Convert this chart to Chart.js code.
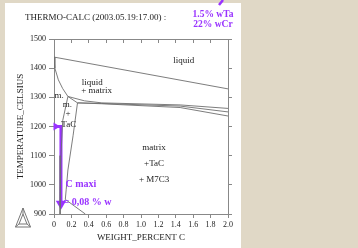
<!DOCTYPE html>
<html lang="en">
<head>
    <meta charset="UTF-8">
    <title>Thermo-Calc isopleth</title>
    <script src="https://cdn.jsdelivr.net/npm/chart.js"></script>
    <style>
        html, body { margin: 0; padding: 0; }
        body {
            width: 358px; height: 248px; overflow: hidden; position: relative;
            background: #e0d8c6;
            font-family: 'Liberation Serif', 'Times New Roman', serif;
        }
        #panel { position: absolute; left: 5px; top: 3px; width: 236px; height: 245px; background: #fff; }
        #header { position: absolute; left: 20px; top: 9px; font-size: 9px; line-height: 10px; color: #222; white-space: nowrap; }
        #alloy {
            position: absolute; left: 180px; top: 6px; width: 56px; text-align: center;
            font-size: 9.5px; line-height: 10px; font-weight: bold; color: #9933ff; white-space: nowrap;
        }
        #deco { position: absolute; left: 0; top: 0; }
        canvas { position: absolute; left: 0; top: 0; }
    </style>
</head>
<body>
    <div id="panel">
        <canvas id="phaseChart" width="236" height="245"></canvas>
        <div id="header">THERMO-CALC (2003.05.19:17.00) :</div>
        <div id="alloy">1.5% wTa<br>22% wCr</div>
    </div>
    <!-- logo and the end of the pointer coming from outside -->
    <svg id="deco" width="358" height="248">
        <line x1="223" y1="0" x2="219" y2="5" stroke="#9933ff" stroke-width="2.5"/>
        <g fill="none" stroke="#777" stroke-width="1">
            <polygon points="23,208 15.5,227 30.5,227"/>
            <polygon points="23,214 19,224 27,224"/>
            <line x1="23" y1="208" x2="23" y2="214"/>
            <line x1="15.5" y1="227" x2="19" y2="224"/>
            <line x1="30.5" y1="227" x2="27" y2="224"/>
        </g>
    </svg>

    <script>
        // phase boundaries (weight % C, temperature in Celsius)
        const liquidusC = [0, 2.0];
        const liquidusT = [1438, 1329];
        const upperC = [0, 0.01, 0.05, 0.10, 0.16];
        const upperT = [1438, 1400, 1360, 1330, 1303];
        const tieC = [0.16, 0.27];
        const tieT = [1303, 1281];
        const eutAC = [0.16, 0.35, 0.55, 1.45, 2.0];
        const eutAT = [1303, 1288, 1281, 1274, 1262];
        const eutBC = [0.27, 0.55, 1.45, 2.0];
        const eutBT = [1281, 1279, 1270, 1250];
        const eutCC = [0.27, 0.55, 1.45, 2.0];
        const eutCT = [1281, 1278, 1265, 1236];
        const leftC = [0.16, 0.10, 0.08, 0.07, 0.07];
        const leftT = [1303, 1220, 1100, 1000, 900];
        const rightC = [0.27, 0.22, 0.16, 0.14, 0.13, 0.36];
        const rightT = [1281, 1170, 1051, 983, 950, 900];

        // the purple "C maxi" pointer
        const arrowC = [0.02, 0.08, 0.08];
        const arrowT = [1200, 1200, 935];

        // region labels
        const labelText = ['liquid', 'liquid', '+ matrix', 'm.', 'm.', '+', 'TaC', 'matrix', '+TaC', '+ M7C3'];
        const labelC = [1.49, 0.44, 0.49, 0.06, 0.155, 0.16, 0.17, 1.15, 1.15, 1.15];
        const labelT = [1425, 1349, 1322, 1305, 1274, 1243, 1205, 1127, 1072, 1017];
        const noteText = ['C maxi', '= 0,08 % w'];
        const noteC = [0.31, 0.385];
        const noteT = [1000, 938];

        const purple = '#9933ff';
        const lineGrey = '#6e6e6e';
        const serif = "'Liberation Serif', 'Times New Roman', serif";

        const pts = (cs, ts) => cs.map((c, i) => ({ x: c, y: ts[i] }));
        const boundary = (cs, ts) => ({
            data: pts(cs, ts),
            borderColor: lineGrey,
            borderWidth: 0.9,
            pointRadius: 0,
            tension: 0
        });

        const phaseLabels = {
            id: 'phaseLabels',
            afterDatasetsDraw(chart) {
                const { ctx, scales: { x, y } } = chart;
                ctx.save();
                ctx.textAlign = 'center';
                ctx.textBaseline = 'middle';
                ctx.font = '9px ' + serif;
                ctx.fillStyle = '#222';
                labelText.forEach((t, i) => {
                    ctx.fillText(t, x.getPixelForValue(labelC[i]), y.getPixelForValue(labelT[i]));
                });
                ctx.font = 'bold 10px ' + serif;
                ctx.fillStyle = purple;
                noteText.forEach((t, i) => {
                    ctx.fillText(t, x.getPixelForValue(noteC[i]), y.getPixelForValue(noteT[i]));
                });
                ctx.restore();
            }
        };

        const axisFont = { family: serif, size: 8 };
        const hidden = { display: false };

        new Chart(document.getElementById('phaseChart'), {
            type: 'line',
            data: {
                datasets: [
                    boundary(liquidusC, liquidusT),
                    boundary(upperC, upperT),
                    boundary(tieC, tieT),
                    boundary(eutAC, eutAT),
                    boundary(eutBC, eutBT),
                    boundary(eutCC, eutCT),
                    boundary(leftC, leftT),
                    boundary(rightC, rightT),
                    {
                        data: pts(arrowC, arrowT),
                        borderColor: purple,
                        backgroundColor: purple,
                        borderWidth: 3,
                        pointStyle: 'triangle',
                        pointRadius: [4.5, 0, 6],
                        pointRotation: [90, 0, 180],
                        pointBorderWidth: 0,
                        clip: false
                    }
                ]
            },
            options: {
                responsive: false,
                animation: false,
                devicePixelRatio: 1,
                layout: { padding: 0 },
                plugins: { legend: hidden, tooltip: { enabled: false } },
                scales: {
                    x: {
                        type: 'linear', position: 'bottom', min: 0, max: 2.0,
                        afterFit: s => { s.height = 34; },
                        ticks: {
                            stepSize: 0.2, color: '#222', font: axisFont, padding: 2, maxRotation: 0,
                            callback: v => (Math.abs(v) < 1e-9 ? '0' : v.toFixed(1))
                        },
                        grid: { drawOnChartArea: false, drawTicks: true, tickLength: 4, color: '#888' },
                        border: { color: '#888' },
                        title: { display: true, text: 'WEIGHT_PERCENT C', color: '#222', font: { family: serif, size: 9 }, padding: { top: 0, bottom: 5 } }
                    },
                    x2: {
                        type: 'linear', position: 'top', min: 0, max: 2.0,
                        afterFit: s => { s.height = 36; },
                        ticks: { display: false, stepSize: 0.2 },
                        grid: { drawOnChartArea: false, drawTicks: true, tickLength: -4, color: '#888' },
                        border: { color: '#888' }
                    },
                    y: {
                        type: 'linear', position: 'left', min: 900, max: 1500,
                        afterFit: s => { s.width = 49; },
                        ticks: { stepSize: 100, color: '#222', font: axisFont, padding: 3, callback: v => String(v) },
                        grid: { drawOnChartArea: false, drawTicks: true, tickLength: 5, color: '#888' },
                        border: { color: '#888' },
                        title: { display: true, text: 'TEMPERATURE_CELSIUS', color: '#222', font: { family: serif, size: 9 }, padding: { top: 10, bottom: 0 } }
                    },
                    y2: {
                        type: 'linear', position: 'right', min: 900, max: 1500,
                        afterFit: s => { s.width = 13; },
                        ticks: { display: false, stepSize: 100 },
                        grid: { drawOnChartArea: false, drawTicks: true, tickLength: 4, color: '#888' },
                        border: { color: '#888' }
                    }
                }
            },
            plugins: [phaseLabels]
        });
    </script>
</body>
</html>
